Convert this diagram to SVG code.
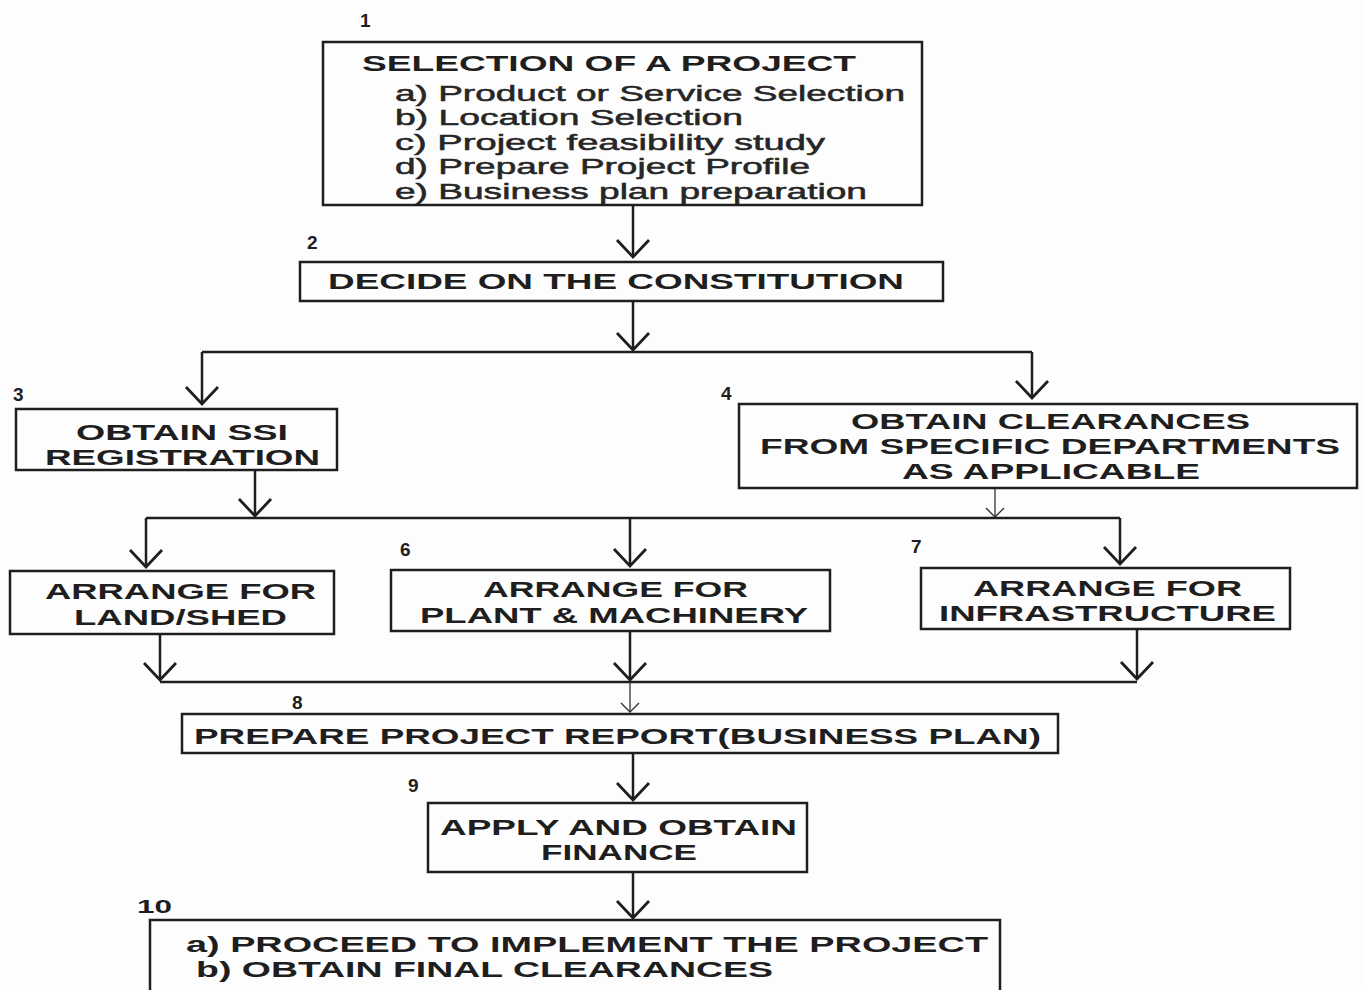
<svg xmlns="http://www.w3.org/2000/svg" width="1363" height="990" viewBox="0 0 1363 990">
<defs>
<style>
.box{fill:none;stroke:#1e1e1e;stroke-width:2.5}
.t{font-family:"Liberation Sans",Arial,sans-serif;font-weight:bold;font-size:22px;fill:#1e1e1e}
.l{font-family:"Liberation Sans",Arial,sans-serif;font-size:22px;fill:#262626;stroke:#262626;stroke-width:0.5}
.n{font-family:"Liberation Sans",Arial,sans-serif;font-weight:bold;font-size:19px;fill:#1e1e1e}
.c{fill:none;stroke:#1e1e1e;stroke-width:2.5}
.ct{fill:none;stroke:#333;stroke-width:1.3}
</style>
<marker id="v" markerUnits="userSpaceOnUse" markerWidth="40" markerHeight="40" viewBox="-20 -20 40 40" refX="0" refY="0" orient="auto" overflow="visible">
<path d="M-17,-16 L0,0 L-17,16" fill="none" stroke="#1e1e1e" stroke-width="2.8"/>
</marker>
<marker id="vs" markerUnits="userSpaceOnUse" markerWidth="24" markerHeight="24" viewBox="-12 -12 24 24" refX="0" refY="0" orient="auto" overflow="visible">
<path d="M-9,-9 L0,0 L-9,9" fill="none" stroke="#333" stroke-width="1.4"/>
</marker>
</defs>
<rect width="1363" height="990" fill="#fdfdfd"/>

<g id="connectors">
<path class="c" d="M633,205 V257" marker-end="url(#v)"/>
<path class="c" d="M633,301 V350" marker-end="url(#v)"/>
<path class="c" d="M202,352 H1032"/>
<path class="c" d="M202,352 V404" marker-end="url(#v)"/>
<path class="c" d="M1032,352 V398" marker-end="url(#v)"/>
<path class="c" d="M255,470 V516" marker-end="url(#v)"/>
<path class="ct" d="M995,488 V517" marker-end="url(#vs)"/>
<path class="c" d="M146,518 H1120"/>
<path class="c" d="M146,518 V567" marker-end="url(#v)"/>
<path class="c" d="M630,518 V566" marker-end="url(#v)"/>
<path class="c" d="M1120,518 V564" marker-end="url(#v)"/>
<path class="c" d="M160,634 V680" marker-end="url(#v)"/>
<path class="c" d="M630,631 V680" marker-end="url(#v)"/>
<path class="c" d="M1137,629 V679" marker-end="url(#v)"/>
<path class="c" d="M160,682 H1137"/>
<path class="ct" d="M630,682 V712" marker-end="url(#vs)"/>
<path class="c" d="M633,753 V800" marker-end="url(#v)"/>
<path class="c" d="M633,872 V918" marker-end="url(#v)"/>
</g>

<g id="node1">
<text class="n" x="360" y="27">1</text>
<rect class="box" x="323" y="42" width="599" height="163"/>
<text class="t" x="362" y="71" textLength="494" lengthAdjust="spacingAndGlyphs">SELECTION OF A PROJECT</text>
<text class="l" x="395" y="101" textLength="510" lengthAdjust="spacingAndGlyphs">a) Product or Service Selection</text>
<text class="l" x="395" y="125" textLength="348" lengthAdjust="spacingAndGlyphs">b) Location Selection</text>
<text class="l" x="395" y="150" textLength="430" lengthAdjust="spacingAndGlyphs">c) Project feasibility study</text>
<text class="l" x="395" y="174" textLength="415" lengthAdjust="spacingAndGlyphs">d) Prepare Project Profile</text>
<text class="l" x="395" y="199" textLength="472" lengthAdjust="spacingAndGlyphs">e) Business plan preparation</text>
</g>

<g id="node2">
<text class="n" x="307" y="249">2</text>
<rect class="box" x="300" y="262" width="643" height="39"/>
<text class="t" x="328" y="289" textLength="576" lengthAdjust="spacingAndGlyphs">DECIDE ON THE CONSTITUTION</text>
</g>

<g id="node3">
<text class="n" x="13" y="401">3</text>
<rect class="box" x="16" y="409" width="321" height="61"/>
<text class="t" x="76" y="440" textLength="212" lengthAdjust="spacingAndGlyphs">OBTAIN SSI</text>
<text class="t" x="45" y="465" textLength="275" lengthAdjust="spacingAndGlyphs">REGISTRATION</text>
</g>

<g id="node4">
<text class="n" x="721" y="400">4</text>
<rect class="box" x="739" y="404" width="618" height="84"/>
<text class="t" x="851" y="429" textLength="399" lengthAdjust="spacingAndGlyphs">OBTAIN CLEARANCES</text>
<text class="t" x="760" y="454" textLength="580" lengthAdjust="spacingAndGlyphs">FROM SPECIFIC DEPARTMENTS</text>
<text class="t" x="902" y="479" textLength="298" lengthAdjust="spacingAndGlyphs">AS APPLICABLE</text>
</g>

<g id="node5">
<rect class="box" x="10" y="571" width="324" height="63"/>
<text class="t" x="45" y="599" textLength="271" lengthAdjust="spacingAndGlyphs">ARRANGE FOR</text>
<text class="t" x="74" y="625" textLength="213" lengthAdjust="spacingAndGlyphs">LAND/SHED</text>
</g>

<g id="node6">
<text class="n" x="400" y="556">6</text>
<rect class="box" x="391" y="570" width="439" height="61"/>
<text class="t" x="483" y="597" textLength="265" lengthAdjust="spacingAndGlyphs">ARRANGE FOR</text>
<text class="t" x="420" y="623" textLength="388" lengthAdjust="spacingAndGlyphs">PLANT &amp; MACHINERY</text>
</g>

<g id="node7">
<text class="n" x="911" y="553">7</text>
<rect class="box" x="921" y="568" width="369" height="61"/>
<text class="t" x="973" y="596" textLength="269" lengthAdjust="spacingAndGlyphs">ARRANGE FOR</text>
<text class="t" x="939" y="621" textLength="337" lengthAdjust="spacingAndGlyphs">INFRASTRUCTURE</text>
</g>

<g id="node8">
<text class="n" x="292" y="709">8</text>
<rect class="box" x="182" y="714" width="876" height="39"/>
<text class="t" x="194" y="744" textLength="847" lengthAdjust="spacingAndGlyphs">PREPARE PROJECT REPORT(BUSINESS PLAN)</text>
</g>

<g id="node9">
<text class="n" x="408" y="792">9</text>
<rect class="box" x="428" y="803" width="379" height="69"/>
<text class="t" x="440" y="835" textLength="357" lengthAdjust="spacingAndGlyphs">APPLY AND OBTAIN</text>
<text class="t" x="541" y="860" textLength="156" lengthAdjust="spacingAndGlyphs">FINANCE</text>
</g>

<g id="node10">
<text class="n" x="137" y="913" textLength="35" lengthAdjust="spacingAndGlyphs">10</text>
<rect class="box" x="150" y="920" width="850" height="80"/>
<text class="t" x="186" y="952" textLength="802" lengthAdjust="spacingAndGlyphs">a) PROCEED TO IMPLEMENT THE PROJECT</text>
<text class="t" x="196" y="977" textLength="577" lengthAdjust="spacingAndGlyphs">b) OBTAIN FINAL CLEARANCES</text>
</g>
</svg>
